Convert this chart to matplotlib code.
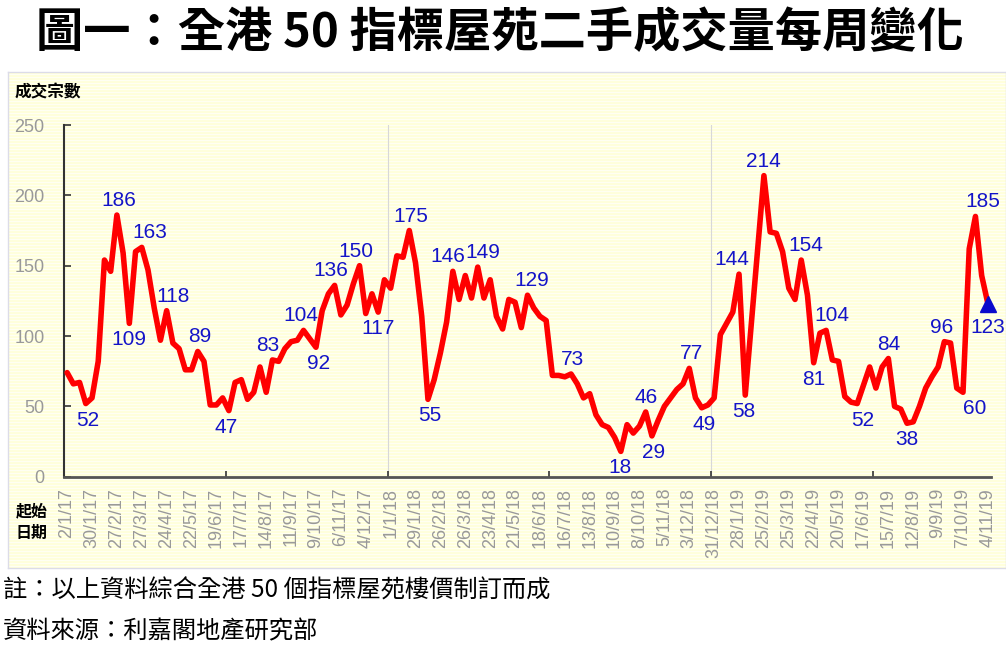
import matplotlib
matplotlib.use("Agg")
import matplotlib.pyplot as plt
from matplotlib.colors import ListedColormap
import numpy as np

plt.rcParams['font.family'] = ['Noto Sans CJK TC', 'DejaVu Sans']

# weekly transactions of the 50 blue-chip estates, week starting 2/1/17 ... 4/11/19
weekly_deals = [74, 66, 67, 52, 56, 82, 154, 146, 186, 159,
                109, 160, 163, 147, 120, 97, 118, 95, 91, 76,
                76, 89, 82, 51, 51, 56, 47, 67, 69, 55,
                60, 78, 60, 83, 82, 91, 96, 97, 104, 98,
                92, 118, 130, 136, 115, 122, 137, 150, 116, 130,
                117, 140, 134, 157, 156, 175, 152, 114, 55, 69,
                88, 110, 146, 126, 143, 127, 149, 127, 140, 114,
                105, 126, 124, 106, 129, 120, 114, 111, 72, 72,
                71, 73, 66, 56, 59, 44, 37, 35, 28, 18,
                37, 31, 36, 46, 29, 40, 50, 56, 62, 66,
                77, 56, 49, 51, 56, 101, 109, 117, 144, 58,
                110, 162, 214, 174, 173, 160, 134, 126, 154, 129,
                81, 102, 104, 83, 82, 57, 53, 52, 65, 78,
                63, 78, 84, 50, 48, 38, 39, 50, 63, 71,
                78, 96, 95, 63, 60, 162, 185, 143, 123]

date_labels = ["2/1/17", "30/1/17", "27/2/17", "27/3/17", "24/4/17", "22/5/17",
               "19/6/17", "17/7/17", "14/8/17", "11/9/17", "9/10/17", "6/11/17",
               "4/12/17", "1/1/18", "29/1/18", "26/2/18", "26/3/18", "23/4/18",
               "21/5/18", "18/6/18", "16/7/18", "13/8/18", "10/9/18", "8/10/18",
               "5/11/18", "3/12/18", "31/12/18", "28/1/19", "25/2/19", "25/3/19",
               "22/4/19", "20/5/19", "17/6/19", "15/7/19", "12/8/19", "9/9/19",
               "7/10/19", "4/11/19"]

# which weeks get a value label: index -> (x shift in px, above/below)
label_spots = {3: (2, 'b'), 8: (2, 'a'), 10: (0, 'b'), 12: (8, 'a'), 16: (6, 'a'),
               21: (2, 'a'), 26: (-3, 'b'), 33: (-5, 'a'), 38: (-3, 'a'), 40: (3, 'b'),
               43: (-4, 'a'), 47: (-4, 'a'), 50: (0, 'b'), 55: (2, 'a'), 58: (2, 'b'),
               62: (-5, 'a'), 66: (5, 'a'), 74: (4, 'a'), 81: (1, 'a'), 89: (-1, 'b'),
               93: (0, 'a'), 94: (2, 'b'), 100: (2, 'a'), 102: (2, 'b'), 108: (-7, 'a'),
               109: (-1, 'b'), 112: (-1, 'a'), 118: (5, 'a'), 120: (0, 'b'), 122: (6, 'a'),
               127: (5, 'b'), 132: (0, 'a'), 135: (0, 'b'), 141: (-3, 'a'), 144: (12, 'b'),
               146: (7, 'a'), 148: (0, 'b')}

W, H = 1006, 649
fig = plt.figure(figsize=(W / 100, H / 100), dpi=100)
fig.patch.set_facecolor('white')

# striped pale-yellow panel behind the chart
bg = fig.add_axes([8 / W, 1 - 568 / H, 998 / W, 496 / H], zorder=0)
stripes = np.array([[0], [0], [1]] * 166)[:496]
bg.imshow(stripes, cmap=ListedColormap(['#FFFFDC', '#FFFFF3']), aspect='auto',
          interpolation='nearest')
bg.set_xticks([])
bg.set_yticks([])
for s in bg.spines.values():
    s.set_color('#dcdce8')
    s.set_linewidth(1)

ax = fig.add_axes([64 / W, 1 - 476.7 / H, 927 / W, 351.7 / H], zorder=1)
ax.patch.set_alpha(0)

x = np.arange(len(weekly_deals))
ax.set_xlim(-0.5, len(weekly_deals) - 0.5)
ax.set_ylim(0, 250)

for gx in (51.5, 103.5):
    ax.axvline(gx, color='#d8d8d8', lw=0.8, zorder=1)

ax.plot(x, weekly_deals, color='#FF0000', lw=4, solid_joinstyle='round',
        solid_capstyle='round', zorder=3)
ax.plot(x[-1], weekly_deals[-1], marker='^', color='#0A0ACC', ms=11, zorder=4,
        clip_on=False)

for i, (dx, side) in label_spots.items():
    v = weekly_deals[i]
    if side == 'a':
        ax.annotate(str(v), (i, v), xytext=(dx, 9), textcoords='offset pixels',
                    ha='center', va='baseline', fontsize=15, color='#1414C8',
                    family='Liberation Sans', zorder=5, annotation_clip=False)
    else:
        dy = -14 if i == len(weekly_deals) - 1 else -7
        ax.annotate(str(v), (i, v), xytext=(dx, dy), textcoords='offset pixels',
                    ha='center', va='top', fontsize=15, color='#1414C8',
                    family='Liberation Sans', zorder=5, annotation_clip=False)

for s in ('top', 'right'):
    ax.spines[s].set_visible(False)
ax.spines['left'].set_color('#333333')
ax.spines['left'].set_linewidth(1.5)
ax.spines['bottom'].set_color('#555555')
ax.spines['bottom'].set_linewidth(2)

ax.set_yticks(range(0, 251, 50))
ax.tick_params(axis='y', direction='in', length=5, width=1.2, color='#333333',
               labelcolor='#999999', labelsize=13, pad=14)
for t in ax.get_yticklabels():
    t.set_family('Liberation Sans')

ax.set_xticks(x[::4])
ax.set_xticklabels(date_labels, rotation=90, ha='center', va='top')
ax.tick_params(axis='x', which='major', length=0, labelcolor='#999999',
               labelsize=13, pad=8)
for t in ax.get_xticklabels():
    t.set_family('Liberation Sans')
ax.set_xticks([25.5, 51.5, 77.5, 103.5, 129.5], minor=True)
ax.tick_params(axis='x', which='minor', direction='in', length=4, width=1.2,
               color='#333333')

fig.text(500 / W, 1 - 33 / H, '圖一：全港 50 指標屋苑二手成交量每周變化',
         ha='center', va='center', fontsize=34, weight='heavy')
fig.text(15 / W, 1 - 92 / H, '成交宗數', ha='left', va='center',
         fontsize=12, weight='bold')
fig.text(32 / W, 1 - 522 / H, '起始\n日期', ha='center', va='center',
         fontsize=11.5, weight='bold', linespacing=1.4)
fig.text(3 / W, 1 - 591 / H, '註：以上資料綜合全港 50 個指標屋苑樓價制訂而成',
         ha='left', va='center', fontsize=17.5)
fig.text(3 / W, 1 - 631 / H, '資料來源：利嘉閣地產研究部',
         ha='left', va='center', fontsize=17.5)

fig.savefig('out.png', dpi=100)
plt.close(fig)
